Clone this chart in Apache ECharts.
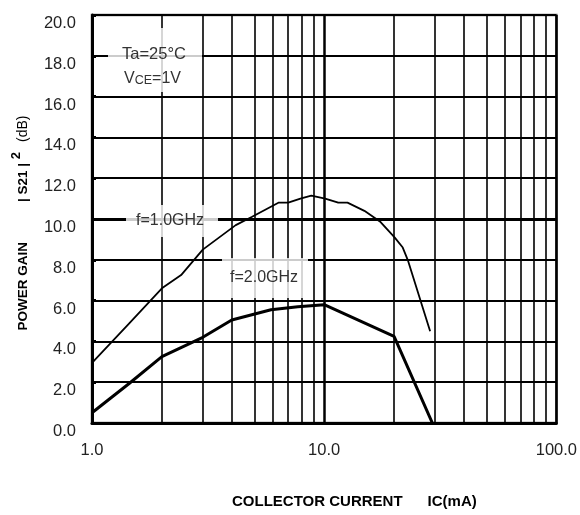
<!DOCTYPE html>
<html><head><meta charset="utf-8">
<script src="https://cdn.jsdelivr.net/npm/echarts@6/dist/echarts.min.js"></script>
<style>html,body{margin:0;padding:0;background:#fff}#c{width:580px;height:515px}</style>
</head><body><div id="c"></div>
<script>
// Data (IC in mA, gain in dB)
var ic1 = [1.0, 1.45, 2.0, 2.42, 3.0, 4.16, 4.87, 6.35, 7.0, 7.9, 8.8, 10.1, 11.5, 12.6, 14.9, 17.5, 20.1, 21.8, 22.9, 28.6];
var g1  = [2.95, 4.9, 6.6, 7.25, 8.5, 9.7, 10.1, 10.8, 10.8, 11.0, 11.15, 11.0, 10.8, 10.8, 10.4, 9.85, 9.1, 8.6, 8.0, 4.5];
var ic2 = [1.0, 1.45, 2.0, 3.0, 4.0, 5.9, 7.7, 10.0, 20.0, 29.5];
var g2  = [0.5, 1.95, 3.25, 4.2, 5.05, 5.55, 5.7, 5.8, 4.25, -0.1];
var xMinorLines = [2,3,4,5,6,7,8,9,20,30,40,50,60,70,80,90];

function zip(a,b){return a.map(function(v,i){return [v,b[i]];});}
var chart = echarts.init(document.getElementById('c'));
var font = '"Liberation Sans", Arial, sans-serif';
chart.setOption({
  animation:false,
  grid:{left:92,right:21,top:15,bottom:92,show:true,borderColor:'#666',borderWidth:2.5,backgroundColor:'transparent'},
  xAxis:{type:'log',logBase:10,min:1,max:100,
    axisLine:{show:true,lineStyle:{color:'#000',width:3}},
    axisTick:{show:false},
    axisLabel:{color:'#222',fontFamily:font,fontSize:16.5,margin:19,formatter:function(v){return Number(v).toFixed(1);}},
    splitLine:{show:true,lineStyle:{color:'#000',width:2.5}},
    minorTick:{show:false},minorSplitLine:{show:false}
  },
  yAxis:{type:'value',min:0,max:20,interval:2,
    axisLine:{show:true,lineStyle:{color:'#000',width:3}},
    axisTick:{show:true,inside:true,length:4,lineStyle:{color:'#000',width:3}},
    axisLabel:{color:'#222',fontFamily:font,fontSize:16.5,margin:16,verticalAlign:'top',formatter:function(v){return v.toFixed(1);}},
    splitLine:{show:true,lineStyle:{color:'#000',width:1.8}}
  },
  series:[
    {type:'line',data:zip(ic1,g1),symbol:'none',lineStyle:{color:'#000',width:1.8},z:5,
     markLine:{silent:true,symbol:'none',label:{show:false},animation:false,
       lineStyle:{color:'#000',width:1.6,type:'solid'},
       data:xMinorLines.map(function(v){return {xAxis:v};}).concat([{yAxis:10,lineStyle:{color:'#000',width:3.2,type:'solid'}}])}},
    {type:'line',data:zip(ic2,g2),symbol:'none',lineStyle:{color:'#000',width:3},z:5}
  ],
  graphic:[
    {type:'rect',shape:{x:108,y:28,width:94,height:64},style:{fill:'rgba(255,255,255,0.8)'},z:10},
    {type:'rect',shape:{x:126,y:205,width:92,height:32},style:{fill:'rgba(255,255,255,0.8)'},z:10},
    {type:'rect',shape:{x:222,y:258,width:86,height:40},style:{fill:'rgba(255,255,255,0.8)'},z:10},
    {type:'text',left:122,top:46,z:11,style:{text:'Ta=25°C',font:'16.5px '+font,fill:'#333'}},
    {type:'text',left:124,top:71,z:11,style:{text:'{a|V}{s|CE}{a|=1V}',font:'16px '+font,fill:'#333',
      rich:{a:{fontSize:16,fontFamily:font,fill:'#333'},s:{fontSize:12.5,fontFamily:font,fill:'#333',verticalAlign:'bottom'}}}},
    {type:'text',left:136,top:213,z:11,style:{text:'f=1.0GHz',font:'16px '+font,fill:'#333'}},
    {type:'text',left:230,top:270,z:11,style:{text:'f=2.0GHz',font:'16px '+font,fill:'#333'}},
    {type:'text',left:232,top:494,z:11,style:{text:'COLLECTOR CURRENT      IC(mA)',font:'bold 15px '+font,fill:'#000'}},
    {type:'text',x:23,y:223,rotation:Math.PI/2,z:11,
     style:{text:'{b|POWER GAIN}            {b|| S21 |}{sup| 2}   {n|(dB)}',align:'center',verticalAlign:'middle',
      rich:{b:{fontSize:13.5,fontWeight:'bold',fontFamily:font,fill:'#000'},
            sup:{fontSize:13,fontWeight:'bold',fontFamily:font,fill:'#000',verticalAlign:'top',padding:[0,0,14,0]},
            n:{fontSize:14,fontFamily:font,fill:'#000'}}}}
  ]
});
</script></body></html>
